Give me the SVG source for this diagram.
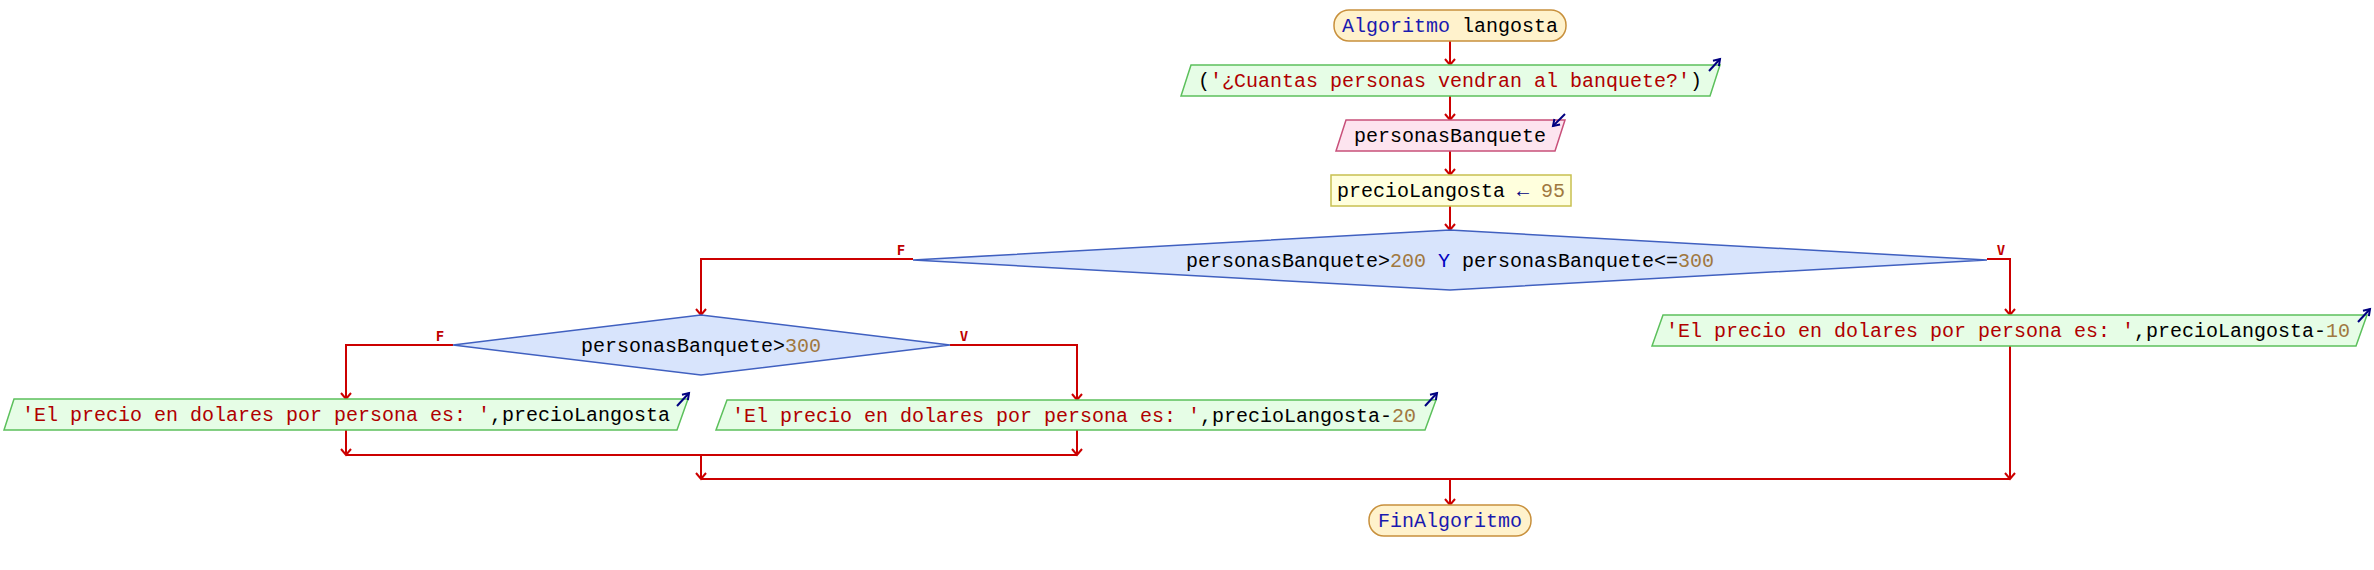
<svg xmlns="http://www.w3.org/2000/svg" width="2374" height="570" viewBox="0 0 2374 570">
<defs>
<marker id="ah" markerUnits="userSpaceOnUse" markerWidth="14" markerHeight="14" viewBox="-8 -7 10 14" refX="0" refY="0" orient="auto">
<path d="M-6,-5 L0,0 L-6,5" fill="none" stroke="#cc0000" stroke-width="2"/>
</marker>
<marker id="bh" markerUnits="userSpaceOnUse" markerWidth="14" markerHeight="14" viewBox="-8 -7 10 14" refX="0" refY="0" orient="auto">
<path d="M-6,-4 L0,0 L-6,4" fill="none" stroke="#000080" stroke-width="2"/>
</marker>
<style>
.t{font-family:"Liberation Mono","Courier New",monospace;font-size:20px;fill:#000;}
.kw{fill:#1a1ab0;}
.st{fill:#b00000;}
.nm{fill:#a07840;}
.op{fill:#0000c0;}
.term{fill:#fff2cc;stroke:#c8903c;stroke-width:1.5;}
.out{fill:#e6fde6;stroke:#5cc05c;stroke-width:1.5;}
.inp{fill:#fde4ef;stroke:#c8507a;stroke-width:1.5;}
.asg{fill:#ffffdd;stroke:#c8c050;stroke-width:1.5;}
.dec{fill:#d8e4fc;stroke:#4060c0;stroke-width:1.5;}
.c{fill:none;stroke:#cc0000;stroke-width:2;}
.ca{fill:none;stroke:#cc0000;stroke-width:2;marker-end:url(#ah);}
.io{fill:none;stroke:#000080;stroke-width:2;marker-end:url(#bh);}
.lb{font-family:"DejaVu Sans Mono",monospace;font-size:14px;font-weight:bold;fill:#c00000;}
</style>
</defs>
<rect width="2374" height="570" fill="#ffffff"/>

<g id="connectors">
<line class="ca" x1="1450" y1="41" x2="1450" y2="65"/>
<line class="ca" x1="1450" y1="96" x2="1450" y2="120"/>
<line class="ca" x1="1450" y1="151" x2="1450" y2="175"/>
<line class="ca" x1="1450" y1="206" x2="1450" y2="230"/>
<polyline class="ca" points="913,259 701,259 701,315"/>
<polyline class="ca" points="1987,259 2010,259 2010,315"/>
<text class="lb" x="901" y="255" text-anchor="middle">F</text>
<text class="lb" x="2001" y="255" text-anchor="middle">V</text>
<polyline class="ca" points="453,345 346,345 346,399"/>
<polyline class="ca" points="950,345 1077,345 1077,400"/>
<text class="lb" x="440" y="341" text-anchor="middle">F</text>
<text class="lb" x="964" y="341" text-anchor="middle">V</text>
<line class="ca" x1="346" y1="430" x2="346" y2="455"/>
<line class="ca" x1="1077" y1="430" x2="1077" y2="455"/>
<line class="c" x1="346" y1="455" x2="1077" y2="455"/>
<line class="ca" x1="701" y1="455" x2="701" y2="479"/>
<line class="ca" x1="2010" y1="346" x2="2010" y2="479"/>
<line class="c" x1="701" y1="479" x2="2010" y2="479"/>
<line class="ca" x1="1450" y1="479" x2="1450" y2="505"/>
</g>

<g id="start">
<rect class="term" x="1334" y="10" width="232" height="31" rx="15" ry="15"/>
<text class="t" x="1450" y="31.5" text-anchor="middle"><tspan class="kw">Algoritmo</tspan> langosta</text>
</g>

<g id="out1">
<polygon class="out" points="1191,65 1720,65 1710,96 1181,96"/>
<text class="t" x="1450" y="86.5" text-anchor="middle">(<tspan class="st">'¿Cuantas personas vendran al banquete?'</tspan>)</text>
<line class="io" x1="1709" y1="71" x2="1720" y2="59"/>
</g>

<g id="in1">
<polygon class="inp" points="1346,120 1565,120 1555,151 1336,151"/>
<text class="t" x="1450" y="141.5" text-anchor="middle">personasBanquete</text>
<line class="io" x1="1565" y1="114" x2="1553" y2="126"/>
</g>

<g id="assign">
<rect class="asg" x="1331" y="175" width="240" height="31"/>
<text class="t" x="1451" y="196.5" text-anchor="middle">precioLangosta <tspan fill="#000080">←</tspan> <tspan class="nm">95</tspan></text>
</g>

<g id="dec1">
<polygon class="dec" points="1450,230 1987,260 1450,290 913,260"/>
<text class="t" x="1450" y="267" text-anchor="middle">personasBanquete&gt;<tspan class="nm">200</tspan> <tspan class="op">Y</tspan> personasBanquete&lt;=<tspan class="nm">300</tspan></text>
</g>

<g id="outV1">
<polygon class="out" points="1663,315 2367,315 2356,346 1652,346"/>
<text class="t" x="2008" y="337" text-anchor="middle"><tspan class="st">'El precio en dolares por persona es: '</tspan>,precioLangosta-<tspan class="nm">10</tspan></text>
<line class="io" x1="2358" y1="322" x2="2370" y2="309"/>
</g>

<g id="dec2">
<polygon class="dec" points="701,315 950,345 701,375 453,345"/>
<text class="t" x="701" y="352" text-anchor="middle">personasBanquete&gt;<tspan class="nm">300</tspan></text>
</g>

<g id="outF2">
<polygon class="out" points="14,399 688,399 677,430 4,430"/>
<text class="t" x="346" y="421" text-anchor="middle"><tspan class="st">'El precio en dolares por persona es: '</tspan>,precioLangosta</text>
<line class="io" x1="677" y1="406" x2="689" y2="393"/>
</g>

<g id="outV2">
<polygon class="out" points="727,400 1436,400 1425,430 716,430"/>
<text class="t" x="1074" y="421.5" text-anchor="middle"><tspan class="st">'El precio en dolares por persona es: '</tspan>,precioLangosta-<tspan class="nm">20</tspan></text>
<line class="io" x1="1425" y1="406" x2="1437" y2="393"/>
</g>

<g id="end">
<rect class="term" x="1369" y="505" width="162" height="31" rx="15" ry="15"/>
<text class="t" x="1450" y="526.5" text-anchor="middle"><tspan class="kw">FinAlgoritmo</tspan></text>
</g>
</svg>
